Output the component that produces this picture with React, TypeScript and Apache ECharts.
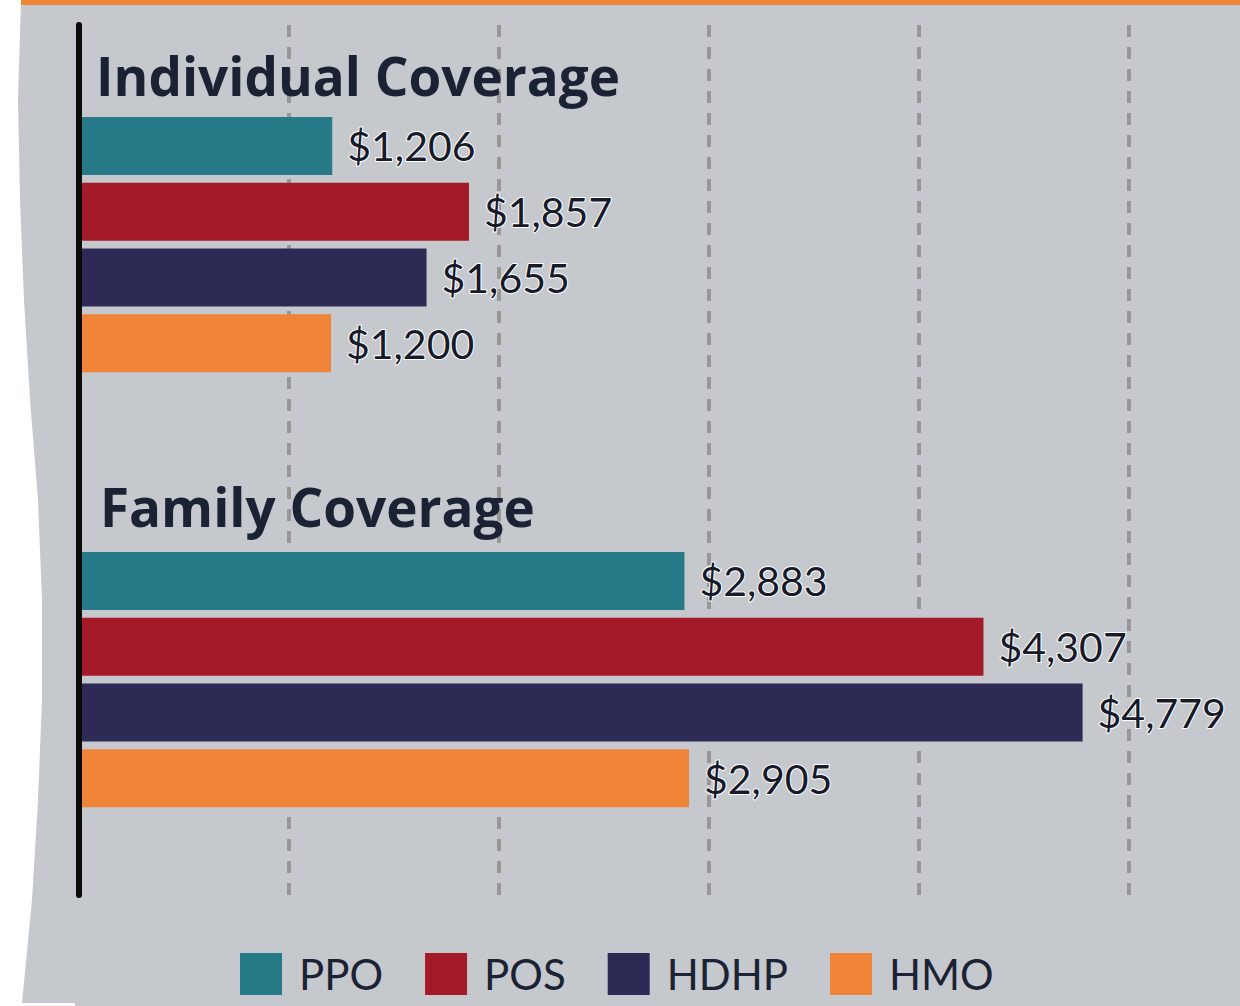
import React, { useEffect, useRef } from "react";
import * as echarts from "echarts";

const plans = ["PPO", "POS", "HDHP", "HMO"];
const planColors = ["#267a87", "#a51a28", "#2e2a56", "#ef8438"];
const individualValues = [1206, 1857, 1655, 1200];
const familyValues = [2883, 4307, 4779, 2905];
const groupTitles = ["Individual Coverage", "Family Coverage"];
const xMin = 0;
const xMax = 5000;
const xInterval = 1000;

const fmt = (v: number) => "$" + v.toLocaleString("en-US");

export default function App() {
  const ref = useRef<HTMLDivElement>(null);
  useEffect(() => {
    if (!ref.current) return;
    const chart = echarts.init(ref.current, undefined, { renderer: "svg" });
    const gridLeft = 79;
    const gridRight = 1240 - 1129;
    const groups = [individualValues, familyValues];
    const groupTops = [113, 548];
    const groupHeight = 263;

    const series: any[] = [];
    groups.forEach((vals, g) => {
      plans.forEach((p, k) => {
        series.push({
          type: "bar",
          name: p,
          xAxisIndex: g + 1,
          yAxisIndex: g + 1,
          barWidth: 58,
          barGap: "-100%",
          itemStyle: { color: planColors[k] },
          data: plans.map((_, i) => (i === k ? vals[k] : "-")),
          label: {
            show: true,
            position: "right",
            distance: 15,
            formatter: (pr: any) => fmt(pr.value),
            fontFamily: "Lato",
            fontSize: 41,
            color: "#161a2a",
            textBorderColor: "#ffffff",
            textBorderWidth: 2,
          },
          z: 2,
        });
      });
    });

    const hiddenX = (idx: number) => ({
      type: "value",
      gridIndex: idx,
      min: xMin,
      max: xMax,
      interval: xInterval,
      show: false,
    });
    const hiddenY = (idx: number) => ({
      type: "category",
      gridIndex: idx,
      data: plans,
      inverse: true,
      show: false,
    });

    chart.setOption({
      animation: false,
      backgroundColor: "transparent",
      graphic: [
        {
          type: "polygon",
          z: -100,
          silent: true,
          shape: {
            points: [
              [21, 0], [1240, 0], [1240, 1006], [75, 1006], [75, 1003], [22, 1003],
              [32, 900], [38, 800], [42, 700], [42, 600], [38, 500], [30, 400],
              [24, 300], [20, 200], [18, 100],
            ],
          },
          style: { fill: "#c5c8cc" },
        },
        {
          type: "rect",
          z: -90,
          silent: true,
          shape: { x: 21, y: 0, width: 1219, height: 5 },
          style: { fill: "#ef8636" },
        },
      ],
      title: groupTitles.map((t, i) => ({
        text: t,
        left: i === 0 ? 96 : 100,
        top: i === 0 ? 49 : 480,
        padding: 0,
        textStyle: {
          fontFamily: "Open Sans",
          fontWeight: "bold",
          fontSize: 53,
          color: "#1b2234",
        },
      })),
      legend: {
        data: plans,
        left: 240,
        top: 953,
        padding: 0,
        itemWidth: 42,
        itemHeight: 42,
        itemGap: 42,
        icon: "rect",
        textStyle: {
          fontFamily: "Lato",
          fontSize: 42,
          color: "#1b2234",
          padding: [0, 0, 0, 12],
        },
      },
      grid: [
        { left: gridLeft, right: gridRight, top: 25, bottom: 1006 - 895 },
        { left: gridLeft, right: gridRight, top: groupTops[0], height: groupHeight },
        { left: gridLeft, right: gridRight, top: groupTops[1], height: groupHeight },
      ],
      xAxis: [
        {
          type: "value",
          gridIndex: 0,
          min: xMin,
          max: xMax,
          interval: xInterval,
          axisLine: { show: false },
          axisTick: { show: false },
          axisLabel: { show: false },
          splitLine: {
            show: true,
            lineStyle: { color: "#979797", width: 4, type: [12, 10] },
          },
        },
        hiddenX(1),
        hiddenX(2),
      ],
      yAxis: [
        {
          type: "category",
          gridIndex: 0,
          data: [""],
          z: 10,
          axisLine: { show: true, lineStyle: { color: "#0a0a0a", width: 6 } },
          axisTick: { show: false },
          axisLabel: { show: false },
          splitLine: { show: false },
        },
        hiddenY(1),
        hiddenY(2),
      ],
      series,
    });
    return () => chart.dispose();
  }, []);
  return (
    <div
      ref={ref}
      style={{ position: "fixed", left: 0, top: 0, width: 1240, height: 1006, background: "#ffffff" }}
    />
  );
}
